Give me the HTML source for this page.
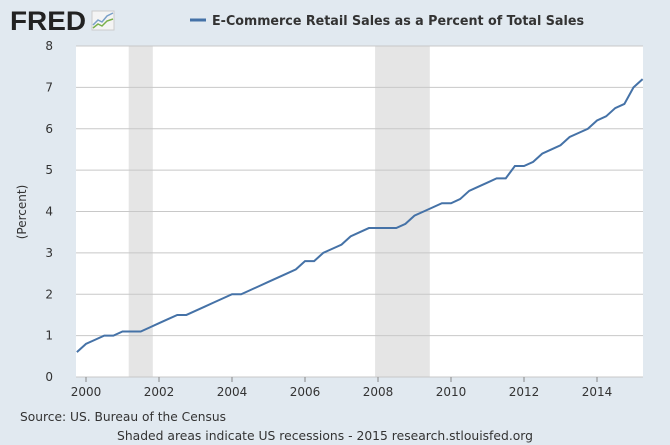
<!DOCTYPE html>
<html><head><meta charset="utf-8"><style>
body{margin:0;background:#e1e9f0;font-family:"DejaVu Sans","Liberation Sans",sans-serif;}
svg{display:block}
</style></head><body>
<svg id="c" width="670" height="445">
<rect width="670" height="445" fill="#e1e9f0"/>
<text x="10" y="30" font-family="Liberation Sans" font-weight="bold" font-size="27" fill="#222" textLength="76" lengthAdjust="spacingAndGlyphs">FRED</text>
<g><rect x="92" y="11" width="22" height="19" fill="#f4f4f4" stroke="#ccc"/><polyline points="93,25 98,20 102,22 107,16 113,13" fill="none" stroke="#7aa0c8" stroke-width="1.5"/><polyline points="93,28 98,24 102,26 107,21 113,19" fill="none" stroke="#7ab04a" stroke-width="1.5"/></g>
<line x1="190" y1="20" x2="206" y2="20" stroke="#4572a7" stroke-width="3"/>
<text x="212" y="25" font-size="13" font-weight="bold" fill="#333" textLength="372" lengthAdjust="spacingAndGlyphs">E-Commerce Retail Sales as a Percent of Total Sales</text>
<rect x="76" y="46" width="567" height="331" fill="#fff"/>
<g id="rec"></g><g id="grid"></g><g id="axes"></g>
<text transform="translate(26,212) rotate(-90)" text-anchor="middle" font-size="12" fill="#333">(Percent)</text>
<text x="20" y="421" font-size="12" fill="#333" textLength="206" lengthAdjust="spacingAndGlyphs">Source: US. Bureau of the Census</text>
<text x="117" y="440" font-size="12" fill="#333" textLength="416" lengthAdjust="spacingAndGlyphs">Shaded areas indicate US recessions - 2015 research.stlouisfed.org</text>
</svg>
<script>
const years=[1999.75,2000,2000.25,2000.5,2000.75,2001,2001.25,2001.5,2001.75,2002,2002.25,2002.5,2002.75,2003,2003.25,2003.5,2003.75,2004,2004.25,2004.5,2004.75,2005,2005.25,2005.5,2005.75,2006,2006.25,2006.5,2006.75,2007,2007.25,2007.5,2007.75,2008,2008.25,2008.5,2008.75,2009,2009.25,2009.5,2009.75,2010,2010.25,2010.5,2010.75,2011,2011.25,2011.5,2011.75,2012,2012.25,2012.5,2012.75,2013,2013.25,2013.5,2013.75,2014,2014.25,2014.5,2014.75,2015,2015.25];
const values=[0.6,0.8,0.9,1.0,1.0,1.1,1.1,1.1,1.2,1.3,1.4,1.5,1.5,1.6,1.7,1.8,1.9,2.0,2.0,2.1,2.2,2.3,2.4,2.5,2.6,2.8,2.8,3.0,3.1,3.2,3.4,3.5,3.6,3.6,3.6,3.6,3.7,3.9,4.0,4.1,4.2,4.2,4.3,4.5,4.6,4.7,4.8,4.8,5.1,5.1,5.2,5.4,5.5,5.6,5.8,5.9,6.0,6.2,6.3,6.5,6.6,7.0,7.2];
const recessions=[[2001.17,2001.83],[2007.92,2009.42]];
const yTicks=[0,1,2,3,4,5,6,7,8];
const xTicks=[2000,2002,2004,2006,2008,2010,2012,2014];
const NS="http://www.w3.org/2000/svg";
const X=t=>86+(t-2000)*36.5, Y=v=>377-v*41.375;
function mk(tag,attrs,parent,txt){const e=document.createElementNS(NS,tag);for(const k in attrs)e.setAttribute(k,attrs[k]);if(txt!==undefined)e.textContent=txt;document.getElementById(parent).appendChild(e);return e;}
recessions.forEach(r=>{const e=mk('rect',{x:X(r[0]),y:46,width:X(r[1])-X(r[0]),height:331,fill:'#e5e5e5'},'rec');

});
yTicks.forEach(v=>{const l=mk('line',{x1:76,x2:643,y1:Y(v),y2:Y(v),stroke:'#c8c8c8'},'grid');


const t=mk('text',{x:53,y:Y(v)+4,'text-anchor':'end','font-size':12,fill:'#333'},'axes',String(v));

});
xTicks.forEach(y=>{const l=mk('line',{x1:X(y),x2:X(y),y1:377,y2:382,stroke:'#888'},'axes');


const t=mk('text',{x:X(y),y:396,'text-anchor':'middle','font-size':12,fill:'#333'},'axes',String(y));

});
const p=mk('polyline',{points:years.map((t,i)=>X(t)+','+Y(values[i])).join(' '),fill:'none',stroke:'#4572a7','stroke-width':2},'axes');


</script>
</body></html>
